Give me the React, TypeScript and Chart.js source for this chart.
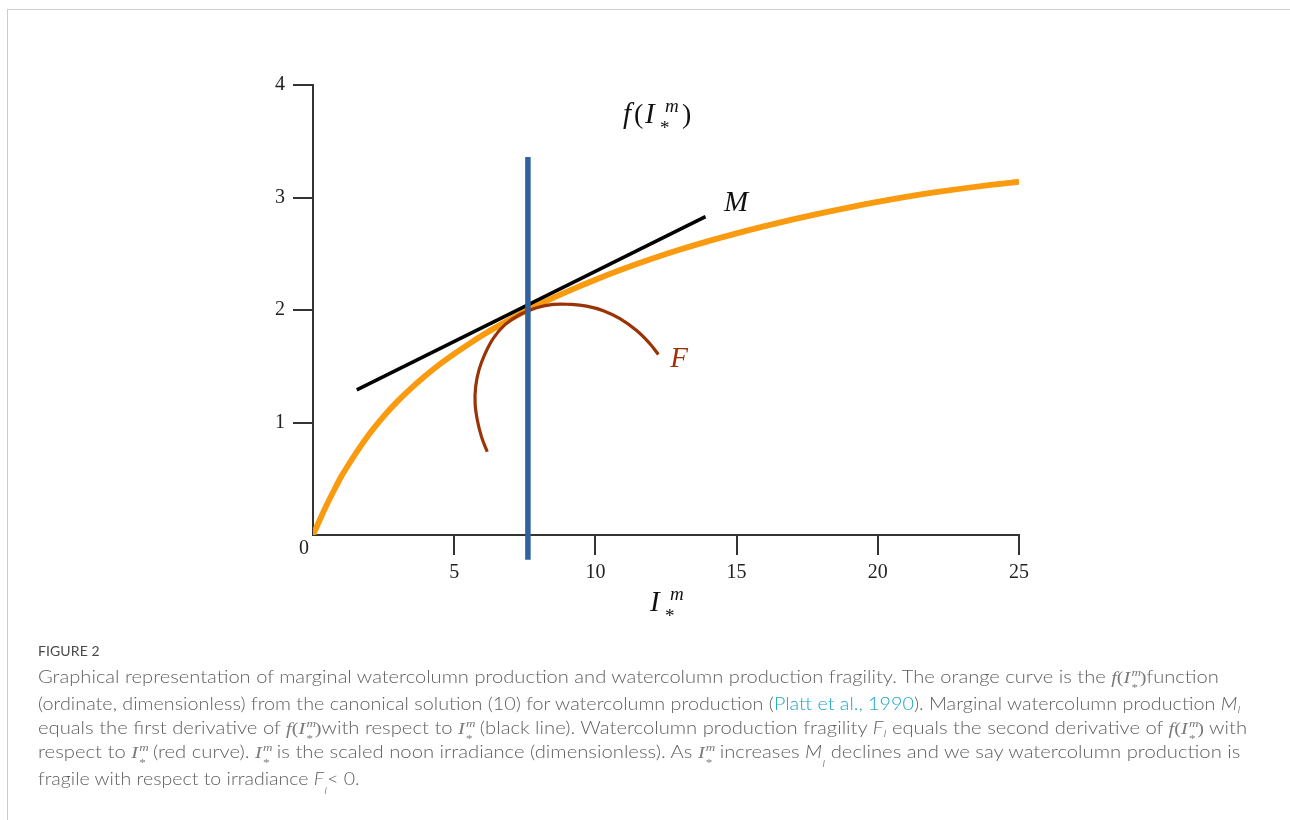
import React, { useEffect, useLayoutEffect, useRef } from 'react';
import { Chart, registerables } from 'chart.js';

Chart.register(...registerables);

// ---- data ----
const xTickValues = [5, 10, 15, 20, 25];
const yTickValues = [1, 2, 3, 4];

// orange curve f(I*m)
const orangeX = [0, 0.25, 0.5, 0.75, 1, 1.25, 1.5, 2, 2.5, 3, 3.5, 4, 4.5, 5, 5.5, 6, 6.5, 7, 7.6, 8, 9, 10, 11, 12, 13, 14, 15, 16, 17, 18, 19, 20, 21, 22, 23, 24, 25];
const orangeY = [0, 0.14, 0.275, 0.4, 0.52, 0.622, 0.72, 0.9, 1.055, 1.19, 1.31, 1.42, 1.52, 1.61, 1.695, 1.775, 1.85, 1.92, 2.0, 2.049, 2.164, 2.269, 2.366, 2.455, 2.537, 2.612, 2.681, 2.745, 2.805, 2.861, 2.913, 2.962, 3.006, 3.045, 3.08, 3.112, 3.14];

// black tangent line M
const tangentX = [1.55, 13.9];
const tangentY = [1.29, 2.83];

// blue vertical line
const blueX = [7.61, 7.61];
const blueY = [-0.22, 3.36];

// red curve F
const redX = [6.17, 5.97, 5.82, 5.74, 5.76, 5.88, 6.09, 6.39, 6.8, 7.33, 7.92, 8.51, 9.1, 9.69, 10.28, 10.87, 11.46, 11.93, 12.23];
const redY = [0.74, 0.87, 1.02, 1.17, 1.32, 1.47, 1.61, 1.75, 1.87, 1.96, 2.02, 2.05, 2.05, 2.035, 1.994, 1.923, 1.817, 1.7, 1.605];

const ORANGE = '#fa9a0e';
const BLUE = '#31629d';
const RED = '#9a3306';
const AXIS = '#333333';
const SERIF = '"Liberation Serif", "Times New Roman", serif';

const pts = (xs: number[], ys: number[]) => xs.map((x, i) => ({ x, y: ys[i] }));

function drawIm(ctx: CanvasRenderingContext2D, left: number, base: number) {
  ctx.textAlign = 'left';
  ctx.textBaseline = 'alphabetic';
  ctx.font = `italic 29px ${SERIF}`;
  ctx.fillText('I', left + 2, base);
  ctx.font = `italic 19px ${SERIF}`;
  ctx.fillText('m', left + 22, base - 11);
  ctx.font = `19px ${SERIF}`;
  ctx.fillText('*', left + 17, base + 11);
}

const labelPlugin = {
  id: 'labelPlugin',
  afterDatasetsDraw(chart: any) {
    const { ctx } = chart;
    const xs = chart.scales.x;
    const ys = chart.scales.y;
    const px = (v: number) => xs.getPixelForValue(v);
    const py = (v: number) => ys.getPixelForValue(v);
    ctx.save();
    // origin label
    ctx.fillStyle = '#222';
    ctx.font = `20px ${SERIF}`;
    ctx.textAlign = 'center';
    ctx.textBaseline = 'middle';
    ctx.fillText('0', px(0) - 9, py(0) + 14);

    // M label
    ctx.font = `italic 29px ${SERIF}`;
    ctx.fillStyle = '#111';
    ctx.fillText('M', px(14.98), py(2.95));
    // F label
    ctx.fillStyle = RED;
    ctx.fillText('F', px(12.96), py(1.564));

    // title f(I*m)
    ctx.fillStyle = '#111';
    const tl = px(10.94);
    const tb = py(3.658);
    ctx.textAlign = 'left';
    ctx.textBaseline = 'alphabetic';
    ctx.font = `italic 29px ${SERIF}`;
    ctx.fillText('f', tl + 1, tb);
    ctx.font = `28px ${SERIF}`;
    ctx.fillText('(', tl + 12, tb);
    drawIm(ctx, tl + 21, tb);
    ctx.font = `28px ${SERIF}`;
    ctx.fillText(')', tl + 60, tb);

    // x axis title
    drawIm(ctx, px(11.86), py(-0.676));
    ctx.restore();
  },
};

function ChartCanvas() {
  const ref = useRef<HTMLCanvasElement | null>(null);
  useEffect(() => {
    if (!ref.current) return;
    const chart = new Chart(ref.current, {
      type: 'scatter',
      data: {
        datasets: [
          {
            data: pts(blueX, blueY),
            showLine: true,
            borderColor: BLUE,
            borderWidth: 5.5,
            pointRadius: 0,
            clip: false,
            order: 0,
            borderCapStyle: 'butt',
          } as any,
          {
            data: pts(redX, redY),
            showLine: true,
            borderColor: RED,
            borderWidth: 3.2,
            pointRadius: 0,
            tension: 0.4,
            order: 1,
          },
          {
            data: pts(tangentX, tangentY),
            showLine: true,
            borderColor: '#000',
            borderWidth: 3.5,
            pointRadius: 0,
            order: 2,
          },
          {
            data: pts(orangeX, orangeY),
            showLine: true,
            borderColor: ORANGE,
            borderWidth: 5.8,
            pointRadius: 0,
            cubicInterpolationMode: 'monotone',
            order: 3,
          } as any,
        ],
      },
      options: {
        animation: false,
        responsive: false,
        devicePixelRatio: 1,
        events: [],
        layout: { padding: { left: 245, right: 263, top: 77, bottom: 33 } },
        plugins: { legend: { display: false }, tooltip: { enabled: false }, title: { display: false } },
        scales: {
          x: {
            type: 'linear',
            min: 0,
            max: 25,
            afterBuildTicks: (axis: any) => {
              axis.ticks = xTickValues.map((v) => ({ value: v }));
            },
            afterFit: (scale: any) => {
              scale.height = 60;
            },
            ticks: {
              color: '#222',
              font: { family: SERIF, size: 20 },
              padding: 6,
              maxRotation: 0,
              autoSkip: false,
            },
            grid: { drawOnChartArea: false, drawTicks: true, tickLength: 20, color: AXIS, lineWidth: 2 },
            border: { display: true, color: AXIS, width: 2 },
          },
          y: {
            type: 'linear',
            min: 0,
            max: 4,
            afterBuildTicks: (axis: any) => {
              axis.ticks = yTickValues.map((v) => ({ value: v }));
            },
            afterFit: (scale: any) => {
              scale.width = 60;
            },
            ticks: {
              color: '#222',
              font: { family: SERIF, size: 20 },
              padding: 8,
              autoSkip: false,
            },
            grid: { drawOnChartArea: false, drawTicks: true, tickLength: 20, color: AXIS, lineWidth: 2 },
            border: { display: true, color: AXIS, width: 2 },
          },
        },
      } as any,
      plugins: [labelPlugin],
    });
    return () => chart.destroy();
  }, []);
  return <canvas ref={ref} width={1274} height={620} style={{ position: 'absolute', left: 0, top: 0, width: 1274, height: 620 }} />;
}

// ---- caption pieces ----
const MATH_COLOR = '#7a7a7a';
const serifStyle: React.CSSProperties = { fontFamily: SERIF, fontWeight: 400, color: MATH_COLOR };
function Im() {
  return (
    <span style={{ whiteSpace: 'nowrap', ...serifStyle }}>
      <span style={{ fontStyle: 'italic' }}>I</span>
      <span style={{ position: 'relative', display: 'inline-block', width: 8, height: 17 }}>
        <span style={{ position: 'absolute', left: 1, top: 1, fontSize: 11, lineHeight: 1, fontStyle: 'italic' }}>m</span>
        <span style={{ position: 'absolute', left: 1, top: 16, fontSize: 11, lineHeight: 1 }}>*</span>
      </span>
    </span>
  );
}
function FIm() {
  return (
    <span style={serifStyle}>
      <span style={{ fontStyle: 'italic' }}>f</span>(<Im />)
    </span>
  );
}
function Sym({ s, low }: { s: string; low?: boolean }) {
  return (
    <span>
      <span style={{ fontStyle: 'italic' }}>{s}</span>
      <span style={{ fontStyle: 'italic', fontSize: '0.6em', position: 'relative', top: low ? '0.9em' : '0.3em' }}>I</span>
    </span>
  );
}

const captionTargets = [1181, 1202, 1209, 1202, 322];
const captionTops = [657, 684, 708, 732, 759];

export default function App() {
  const lineRefs = useRef<(HTMLSpanElement | null)[]>([]);
  useLayoutEffect(() => {
    const fit = () => {
      lineRefs.current.forEach((el, i) => {
        if (!el) return;
        el.style.transform = 'none';
        const w = el.offsetWidth;
        if (w > 0) el.style.transform = `scaleX(${captionTargets[i] / w})`;
      });
    };
    fit();
    if ((document as any).fonts && (document as any).fonts.ready) {
      (document as any).fonts.ready.then(fit);
    }
  }, []);

  const lineStyle = (i: number): React.CSSProperties => ({
    position: 'absolute',
    left: 30,
    top: captionTops[i],
    lineHeight: '24px',
    fontSize: 17,
    fontWeight: 300,
    whiteSpace: 'nowrap',
    display: 'inline-block',
    transformOrigin: 'left center',
    color: '#606060',
    fontFamily: 'Lato, "Open Sans", sans-serif',
  });
  const link: React.CSSProperties = { color: '#1aa7c6' };

  const lines = [
    <>
      Graphical representation of marginal watercolumn production and watercolumn production fragility. The orange curve is the <FIm />function
    </>,
    <>
      (ordinate, dimensionless) from the canonical solution (10) for watercolumn production (<span style={link}>Platt et al., 1990</span>). Marginal watercolumn production <Sym s="M" />
    </>,
    <>
      equals the first derivative of <FIm />with respect to <Im /> (black line). Watercolumn production fragility <Sym s="F" /> equals the second derivative of <FIm /> with
    </>,
    <>
      respect to <Im /> (red curve). <Im /> is the scaled noon irradiance (dimensionless). As <Im /> increases <Sym s="M" low /> declines and we say watercolumn production is
    </>,
    <>
      fragile with respect to irradiance <Sym s="F" low />&lt; 0.
    </>,
  ];

  return (
    <>
      <div
        style={{
          position: 'fixed',
          left: 7,
          top: 9,
          right: 0,
          bottom: 0,
          borderTop: '1px solid #cccccc',
          borderLeft: '1px solid #cccccc',
          pointerEvents: 'none',
        }}
      />
      <div style={{ position: 'relative', width: 1274, height: 790 }}>
        <ChartCanvas />
        <div
          style={{
            position: 'absolute',
            left: 30,
            top: 635,
            fontSize: 14,
            lineHeight: '16px',
            color: '#4a4a4a',
            fontFamily: 'Lato, "Open Sans", sans-serif',
            letterSpacing: 0.1,
          }}
        >
          FIGURE 2
        </div>
        {lines.map((content, i) => (
          <span key={i} ref={(el) => { lineRefs.current[i] = el; }} style={lineStyle(i)}>
            {content}
          </span>
        ))}
      </div>
    </>
  );
}
